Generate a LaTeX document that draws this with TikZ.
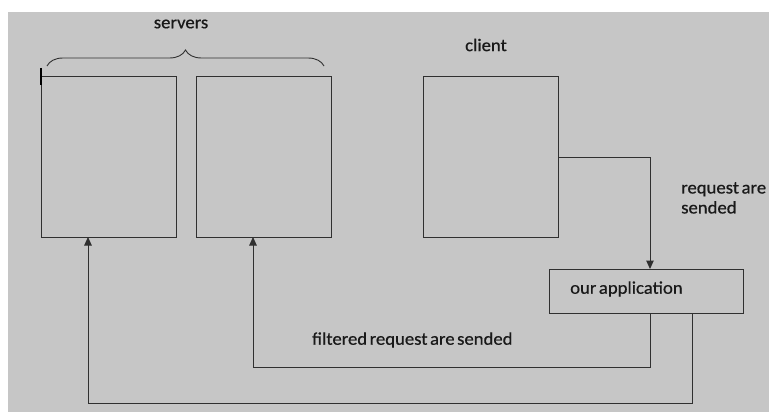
\documentclass[tikz,border=0pt]{standalone}
\usepackage{fontspec}
\setmainfont{Carlito}[WordSpace=0.6, FakeBold=0.6, FakeStretch=1.05]
\usetikzlibrary{arrows.meta,decorations.pathreplacing}
\definecolor{panel}{HTML}{C6C6C6}
\definecolor{ink}{HTML}{303030}
\tikzset{
  box/.style={draw=ink, line width=1pt, inner sep=0pt, outer sep=0pt, fill=panel},
  flow/.style={draw=ink, line width=1pt, -{Triangle[length=8.5pt,width=7.5pt]}},
  label/.style={inner sep=0pt, font=\fontsize{17.8}{20}\selectfont, text=black!90},
}
\begin{document}
\begin{tikzpicture}[x=1pt,y=-1pt]
  \useasboundingbox (0,0) rectangle (769,412);
  \fill[white] (0,0) rectangle (769,412);
  \fill[panel] (8,12) rectangle (769,412);

  % server machines
  \node[box, minimum width=135pt, minimum height=160pt] (s1) at (108.5,157) {};
  \node[box, minimum width=135pt, minimum height=160pt] (s2) at (263.5,157) {};
  % client machine
  \node[box, minimum width=135pt, minimum height=160pt] (c) at (490.5,157) {};
  % the filtering application
  \node[box, minimum width=194pt, minimum height=44pt] (app) at (646,291) {};

  % brace over the servers
  \coordinate (bl) at (47,66);
  \coordinate (br) at (324,66);
  \draw[ink, line width=0.9pt, decorate, decoration={brace, amplitude=16pt, aspect=0.5}] (bl) -- (br);
  \draw[black, line width=1.6pt] ([yshift=9pt]s1.north west) -- ([yshift=-8pt]s1.north west);

  \node[label] (tserv) at (181,24) {servers};
  \node[label] (tcli) at (486,45) {client};
  \node[label, anchor=west] (tapp) at (570,289) {our application};
  \node[label, anchor=north west, align=left] (treq) at (681,182) {request are\\sended};
  \node[label, anchor=west] (tfil) at (312,340) {filtered request are sended};

  % connectors
  \draw[flow] (c.east) -| ([xshift=4pt]app.north);
  \draw[flow] ([xshift=4pt]app.south) -- ++(0,54) -| ([xshift=-10.5pt]s2.south);
  \draw[flow] ([xshift=46pt]app.south) -- ++(0,90) -| ([xshift=-20.5pt]s1.south);
\end{tikzpicture}
\end{document}
